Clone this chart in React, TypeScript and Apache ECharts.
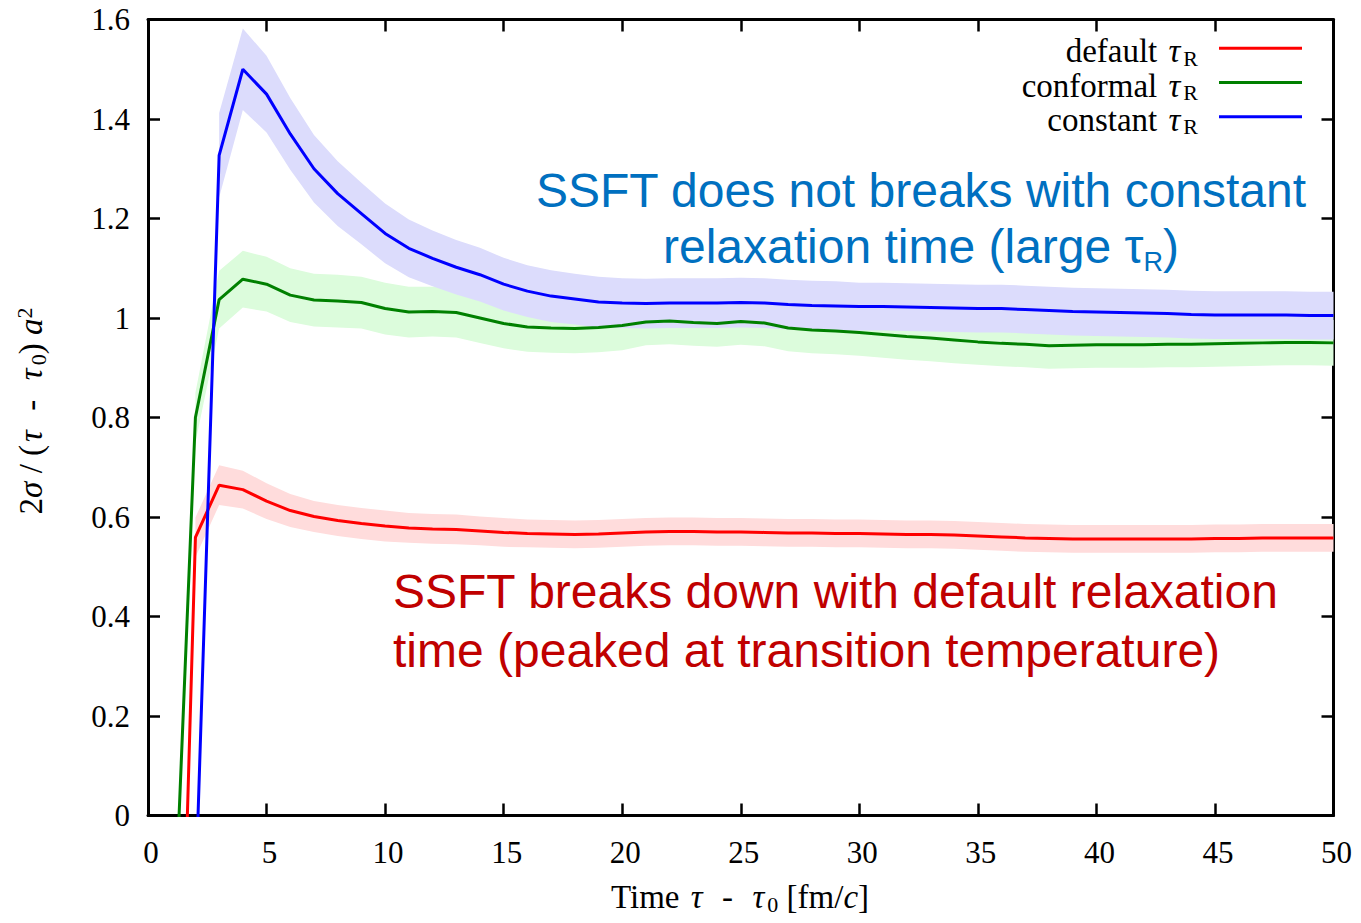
import React, { useEffect, useRef } from "react";
import * as echarts from "echarts";

// Time after the initial time, tau - tau0 [fm/c]
const timeSteps = [
  1, 2, 3, 4, 5, 6, 7, 8, 9, 10,
  11, 12, 13, 14, 15, 16, 17, 18, 19, 20,
  21, 22, 23, 24, 25, 26, 27, 28, 29, 30,
  31, 32, 33, 34, 35, 36, 37, 38, 39, 40,
  41, 42, 43, 44, 45, 46, 47, 48, 49, 50,
];

// 2 sigma / (tau - tau0) a^2 for the three relaxation-time prescriptions
const defaultMean = [
  -1.085, 0.559, 0.664, 0.655, 0.632, 0.613, 0.601, 0.593, 0.587, 0.582,
  0.578, 0.576, 0.575, 0.572, 0.569, 0.567, 0.566, 0.565, 0.566, 0.568,
  0.570, 0.571, 0.571, 0.570, 0.570, 0.569, 0.568, 0.568, 0.567, 0.567,
  0.566, 0.565, 0.565, 0.564, 0.562, 0.560, 0.558, 0.557, 0.556, 0.556,
  0.556, 0.556, 0.556, 0.556, 0.557, 0.557, 0.558, 0.558, 0.558, 0.558,
];
const defaultErr = [
  null, 0.040, 0.040, 0.038, 0.036, 0.033, 0.031, 0.031, 0.031, 0.031,
  0.030, 0.030, 0.030, 0.029, 0.029, 0.028, 0.028, 0.028, 0.028, 0.028,
  0.028, 0.028, 0.028, 0.028, 0.028, 0.028, 0.028, 0.028, 0.028, 0.028,
  0.028, 0.028, 0.028, 0.028, 0.028, 0.028, 0.028, 0.028, 0.028, 0.028,
  0.028, 0.028, 0.028, 0.028, 0.028, 0.028, 0.028, 0.028, 0.028, 0.028,
];

const conformalMean = [
  -0.36, 0.800, 1.037, 1.078, 1.068, 1.046, 1.036, 1.034, 1.031, 1.019,
  1.012, 1.013, 1.011, 1.000, 0.989, 0.982, 0.980, 0.979, 0.981, 0.985,
  0.992, 0.994, 0.991, 0.989, 0.993, 0.990, 0.980, 0.976, 0.974, 0.971,
  0.967, 0.963, 0.960, 0.956, 0.952, 0.949, 0.947, 0.944, 0.945, 0.946,
  0.946, 0.946, 0.947, 0.947, 0.948, 0.949, 0.950, 0.951, 0.951, 0.950,
];
const conformalErr = [
  null, 0.050, 0.058, 0.057, 0.055, 0.054, 0.053, 0.053, 0.052, 0.052,
  0.051, 0.050, 0.050, 0.050, 0.050, 0.050, 0.050, 0.050, 0.050, 0.050,
  0.047, 0.047, 0.047, 0.047, 0.047, 0.047, 0.047, 0.047, 0.047, 0.047,
  0.047, 0.047, 0.047, 0.047, 0.046, 0.046, 0.046, 0.046, 0.046, 0.046,
  0.046, 0.046, 0.046, 0.046, 0.046, 0.046, 0.046, 0.046, 0.046, 0.046,
];

const constantMean = [
  null, -0.164, 1.327, 1.500, 1.450, 1.370, 1.300, 1.250, 1.210, 1.170,
  1.140, 1.120, 1.102, 1.087, 1.068, 1.054, 1.044, 1.038, 1.032, 1.030,
  1.029, 1.030, 1.030, 1.030, 1.031, 1.030, 1.027, 1.025, 1.024, 1.023,
  1.023, 1.022, 1.021, 1.020, 1.019, 1.019, 1.017, 1.015, 1.013, 1.012,
  1.011, 1.010, 1.009, 1.007, 1.006, 1.006, 1.006, 1.006, 1.005, 1.005,
];
const constantErr = [
  null, null, 0.085, 0.082, 0.077, 0.072, 0.068, 0.065, 0.062, 0.060,
  0.058, 0.056, 0.055, 0.054, 0.053, 0.052, 0.052, 0.051, 0.051, 0.050,
  0.050, 0.050, 0.050, 0.050, 0.050, 0.050, 0.050, 0.050, 0.050, 0.048,
  0.048, 0.048, 0.048, 0.048, 0.048, 0.048, 0.048, 0.048, 0.048, 0.048,
  0.048, 0.048, 0.048, 0.048, 0.048, 0.048, 0.048, 0.048, 0.048, 0.048,
];

const xTicks = { min: 0, max: 50, interval: 5 };
const yTicks = { min: 0, max: 1.6, interval: 0.2 };

const seriesInfo = [
  { key: "default", label: "default", mean: defaultMean, err: defaultErr, line: "#ff0000", band: "#ffdcdc" },
  { key: "conformal", label: "conformal", mean: conformalMean, err: conformalErr, line: "#008000", band: "#dcfcdc" },
  { key: "constant", label: "constant", mean: constantMean, err: constantErr, line: "#0000ff", band: "#dcdcfc" },
];

const SERIF = "Liberation Serif";
const SANS = "Liberation Sans";

// Uncertainty band: one polygon through mean+err forward and mean-err backward
function bandSeries(info: any) {
  const rows: number[][] = [];
  timeSteps.forEach((t, i) => {
    const m = info.mean[i];
    const e = info.err[i];
    if (m == null || e == null) return;
    rows.push([t, +(m - e).toFixed(4), +(m + e).toFixed(4)]);
  });
  return {
    type: "custom",
    name: info.key + " band",
    coordinateSystem: "cartesian2d",
    silent: true,
    clip: true,
    z: 1,
    data: rows,
    encode: { x: 0, y: [1, 2] },
    renderItem: (params: any, api: any) => {
      if (params.dataIndex !== 0) return null;
      const upper = rows.map((r) => api.coord([r[0], r[2]]));
      const lower = rows.map((r) => api.coord([r[0], r[1]])).reverse();
      return {
        type: "polygon",
        shape: { points: upper.concat(lower) },
        style: { fill: info.band, stroke: null },
      };
    },
  };
}

function lineSeries(info: any) {
  return {
    type: "line",
    name: info.key,
    data: timeSteps.map((t, i) => [t, info.mean[i]]),
    symbol: "none",
    lineStyle: { color: info.line, width: 3 },
    itemStyle: { color: info.line },
    z: 3,
  };
}

const textRich = {
  n: { fontFamily: SERIF, fontSize: 33, lineHeight: 36, fill: "#000" },
  i: { fontFamily: SERIF, fontSize: 33, lineHeight: 36, fontStyle: "italic", fill: "#000", padding: [0, 3, 0, 3] },
  c: { fontFamily: SERIF, fontSize: 33, lineHeight: 36, fontStyle: "italic", fill: "#000" },
  s: { fontFamily: SERIF, fontSize: 22, lineHeight: 18, verticalAlign: "bottom", fill: "#000" },
  p: { fontFamily: SERIF, fontSize: 22, lineHeight: 14, verticalAlign: "top", fill: "#000" },
};

function legendGraphics() {
  const rowY = [48.3, 82.5, 116.7];
  const items: any[] = [];
  seriesInfo.forEach((info, k) => {
    items.push({
      type: "text",
      x: 1198,
      y: rowY[k] + 3,
      z: 100,
      style: {
        text: `{n|${info.label} }{i|τ}{s|R}`,
        rich: textRich,
        align: "right",
        verticalAlign: "middle",
        fill: "#000",
      },
    });
    items.push({
      type: "line",
      z: 100,
      shape: { x1: 1219, y1: rowY[k], x2: 1302, y2: rowY[k] },
      style: { stroke: info.line, lineWidth: 3 },
    });
  });
  return items;
}

export default function App() {
  const ref = useRef<HTMLDivElement>(null);

  useEffect(() => {
    if (!ref.current) return;
    const chart = echarts.init(ref.current, null, { renderer: "svg" });

    const axisLine = { show: true, onZero: false, lineStyle: { color: "#000", width: 3 } };
    const axisTick = { show: true, inside: true, length: 12, lineStyle: { color: "#000", width: 2.5 } };
    const labelStyle = { fontFamily: SERIF, fontSize: 31, color: "#000" };

    const blueRich = {
      m: { fontFamily: SANS, fontSize: 48, lineHeight: 58, fill: "#0070c0" },
      s: { fontFamily: SANS, fontSize: 27, lineHeight: 22, verticalAlign: "bottom", fill: "#0070c0" },
    };

    const option: any = {
      animation: false,
      backgroundColor: "#ffffff",
      grid: { left: 148, right: 27.5, top: 19.5, bottom: 107.5, containLabel: false },
      xAxis: [
        {
          type: "value",
          ...xTicks,
          position: "bottom",
          axisLine,
          axisTick,
          splitLine: { show: false },
          axisLabel: { ...labelStyle, margin: 21, padding: [0, 0, 0, 6] },
        },
        {
          type: "value",
          ...xTicks,
          position: "top",
          axisLine,
          axisTick,
          splitLine: { show: false },
          axisLabel: { show: false },
        },
      ],
      yAxis: [
        {
          type: "value",
          ...yTicks,
          position: "left",
          axisLine,
          axisTick,
          splitLine: { show: false },
          axisLabel: { ...labelStyle, margin: 18 },
        },
        {
          type: "value",
          ...yTicks,
          position: "right",
          axisLine,
          axisTick,
          splitLine: { show: false },
          axisLabel: { show: false },
        },
      ],
      series: [
        ...seriesInfo.map((info) => bandSeries(info)),
        ...seriesInfo.map((info) => lineSeries(info)),
      ],
      graphic: [
        ...legendGraphics(),
        {
          type: "text",
          x: 921,
          y: 190,
          z: 100,
          style: {
            text: "SSFT does not breaks with constant",
            fontFamily: SANS,
            fontSize: 48,
            fill: "#0070c0",
            align: "center",
            verticalAlign: "middle",
          },
        },
        {
          type: "text",
          x: 921,
          y: 246,
          z: 100,
          style: {
            text: "{m|relaxation time (large τ}{s|R}{m|)}",
            rich: blueRich,
            fill: "#0070c0",
            align: "center",
            verticalAlign: "middle",
          },
        },
        {
          type: "text",
          x: 393,
          y: 591,
          z: 100,
          style: {
            text: "SSFT breaks down with default relaxation",
            fontFamily: SANS,
            fontSize: 48,
            fill: "#c00000",
            align: "left",
            verticalAlign: "middle",
          },
        },
        {
          type: "text",
          x: 393,
          y: 650,
          z: 100,
          style: {
            text: "time (peaked at transition temperature)",
            fontFamily: SANS,
            fontSize: 48,
            fill: "#c00000",
            align: "left",
            verticalAlign: "middle",
          },
        },
        {
          type: "text",
          x: 740,
          y: 897,
          z: 100,
          style: {
            text: "{n|Time }{i|τ}{n|\u2002-\u2002}{i|τ}{s|0}{n| [fm/}{c|c}{n|]}",
            rich: textRich,
            fill: "#000",
            align: "center",
            verticalAlign: "middle",
          },
        },
        {
          type: "text",
          x: 31,
          y: 411,
          z: 100,
          rotation: Math.PI / 2,
          style: {
            text: "{n|2}{c|σ}{n| / (}{i|τ}{n|\u2002-\u2002}{i|τ}{s|0}{n|) }{c|a}{p|2}",
            rich: textRich,
            fill: "#000",
            align: "center",
            verticalAlign: "middle",
          },
        },
      ],
    };

    chart.setOption(option);
    return () => chart.dispose();
  }, []);

  return (
    <div
      ref={ref}
      style={{ position: "fixed", left: 0, top: 0, width: 1361, height: 923, background: "#fff" }}
    />
  );
}
